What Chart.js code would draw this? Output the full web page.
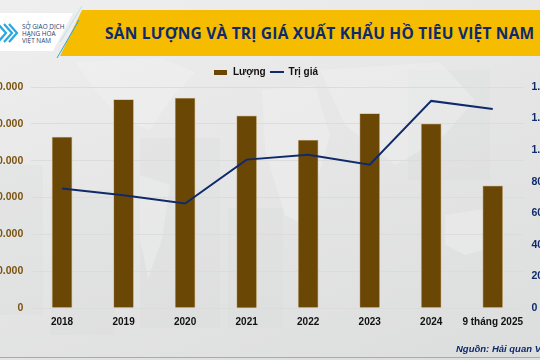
<!DOCTYPE html>
<html lang="vi">
<head>
<meta charset="UTF-8">
<title>Sản lượng và trị giá xuất khẩu hồ tiêu Việt Nam</title>
<script src="https://cdn.jsdelivr.net/npm/chart.js"></script>
<style>
    html, body { margin: 0; padding: 0; }
    body { width: 540px; height: 360px; overflow: hidden; position: relative;
           background: linear-gradient(160deg, #efefef 0%, #e6e6e6 45%, #dcdddd 100%); }
    #bg, #banner { position: absolute; left: 0; top: 0; }
    #chart { position: absolute; left: -40px; top: 59px; }
    #title { position: absolute; left: 105px; top: 22px; white-space: nowrap; color: #0e2a6e;
             font: 700 15.5px "Open Sans", sans-serif; letter-spacing: 0.22px; }
    #logo { position: absolute; left: 22px; top: 23px; color: #27406f;
            font: 400 6.4px/7.2px "Open Sans", sans-serif; }
    #source { position: absolute; left: 456px; top: 343px; white-space: nowrap; color: #0e2a6e;
              font: italic 700 9.5px "Liberation Sans", sans-serif; }
    #foot { position: absolute; left: 0; top: 357px; width: 540px; height: 1px; background: #aaa; }
</style>
</head>
<body>
    <!-- faint map behind the chart -->
    <svg id="bg" width="540" height="360">
        <g fill="#d6d9d9" opacity="0.22">
            <rect x="0" y="165" width="43" height="150"/>
            <rect x="50" y="190" width="65" height="145"/>
            <rect x="140" y="138" width="80" height="190"/>
            <rect x="228" y="208" width="55" height="120"/>
            <rect x="408" y="70" width="82" height="110"/>
        </g>
        <g fill="#f4f4f4" opacity="0.38">
            <path d="M75 62 L160 58 L195 72 L170 100 L150 130 L120 118 L95 90Z"/>
            <path d="M140 175 L170 185 L162 240 L148 278 L140 240Z"/>
            <path d="M262 90 L315 85 L330 135 L305 225 L285 215 L265 150Z"/>
            <path d="M320 70 L440 62 L475 100 L440 140 L395 165 L345 125Z"/>
            <path d="M445 215 L490 208 L500 245 L465 255 L445 245Z"/>
        </g>
    </svg>

    <!-- banner and logo -->
    <svg id="banner" width="540" height="62">
        <path d="M82 10 L540 10 L540 56 L60 56Z" fill="#f5bc00"/>
        <path d="M0 13 L73 13 L53 51 L0 51Z" fill="#ffffff"/>
        <path d="M82 6 L60 42" stroke="#b9d9ea" stroke-width="0.8"/>
        <path d="M79 20 L57 58" stroke="#2aa7df" stroke-width="1"/>
        <g fill="none" stroke="#2aa7df" stroke-width="2.2">
            <path d="M-2 24 L6 33 L-2 42"/>
            <path d="M4 24 L12 33 L4 42"/>
            <path d="M9 24 L17 33 L9 42"/>
        </g>
    </svg>
    <div id="logo">SỞ GIAO DỊCH<br>HÀNG HÓA<br>VIỆT NAM</div>
    <div id="title">SẢN LƯỢNG VÀ TRỊ GIÁ XUẤT KHẨU HỒ TIÊU VIỆT NAM</div>

    <canvas id="chart" width="612" height="291"></canvas>

    <div id="source">Nguồn: Hải quan Việt Nam</div>
    <div id="foot"></div>

    <script>
        const categories = ['2018', '2019', '2020', '2021', '2022', '2023', '2024', '9 tháng 2025'];
        const luong = [232000, 283000, 285000, 261000, 228000, 264000, 250000, 166000];
        const triGia = [757, 714, 662, 940, 971, 908, 1312, 1261];
        const leftTicks = ['0', '50.000', '100.000', '150.000', '200.000', '250.000', '300.000'];
        const rightTicks = ['0', '200', '400', '600', '800', '1.000', '1.200', '1.400'];

        const BROWN = '#6b4706';
        const NAVY = '#0f2a6b';

        // legend markers are small canvases so the bar key can be a flat box
        function legendMark(w, h, color) {
            const c = document.createElement('canvas');
            c.width = w;
            c.height = h;
            const g = c.getContext('2d');
            g.fillStyle = color;
            g.fillRect(0, 0, w, h);
            return c;
        }

        new Chart(document.getElementById('chart'), {
            type: 'bar',
            data: {
                labels: categories,
                datasets: [
                    {
                        type: 'line', label: 'Trị giá', data: triGia, yAxisID: 'y2', order: 1,
                        borderColor: NAVY, borderWidth: 2, pointRadius: 0, tension: 0, fill: false,
                        pointStyle: legendMark(14, 2, NAVY)
                    },
                    {
                        type: 'bar', label: 'Lượng', data: luong, yAxisID: 'y', order: 2,
                        backgroundColor: BROWN, borderColor: '#c9b690', borderWidth: 0.8,
                        barThickness: 20, pointStyle: legendMark(13, 5, BROWN)
                    }
                ]
            },
            options: {
                responsive: false,
                animation: false,
                layout: { padding: { top: 4, bottom: 0, left: 0, right: 0 } },
                plugins: {
                    tooltip: { enabled: false },
                    legend: {
                        position: 'top',
                        reverse: true,
                        labels: {
                            usePointStyle: true, pointStyleWidth: 14, boxHeight: 10, padding: 4,
                            color: '#111', font: { family: 'Liberation Sans', size: 10, weight: 'bold' }
                        }
                    }
                },
                scales: {
                    x: {
                        grid: { display: false },
                        border: { display: false },
                        ticks: { color: '#111', padding: 0, maxRotation: 0, autoSkip: false,
                                 font: { family: 'Liberation Sans', size: 10, weight: 'bold' } },
                        afterFit: s => { s.height = 42; }
                    },
                    y: {
                        min: 0, max: 300000,
                        grid: { color: '#dcdcdc', drawTicks: false },
                        border: { display: false },
                        ticks: { stepSize: 50000, padding: 8, color: '#7a5310',
                                 font: { family: 'Liberation Sans', size: 10.5, weight: 'bold' },
                                 callback: (v, i) => leftTicks[i] },
                        afterFit: s => { s.width = 71.3; }
                    },
                    y2: {
                        position: 'right',
                        min: 0, max: 1400,
                        grid: { display: false, drawTicks: false },
                        border: { display: false },
                        ticks: { stepSize: 200, padding: 8, align: 'center', color: NAVY,
                                 font: { family: 'Liberation Sans', size: 10.5, weight: 'bold' },
                                 callback: (v, i) => rightTicks[i] },
                        afterFit: s => { s.width = 48.5; }
                    }
                }
            }
        });
    </script>
</body>
</html>
